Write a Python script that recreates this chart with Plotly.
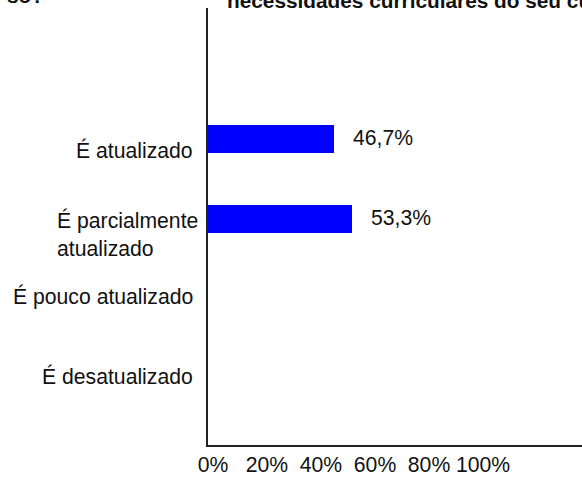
import plotly.graph_objects as go

categories = ["É atualizado", "É parcialmente<br>atualizado", "É pouco atualizado", "É desatualizado"]
values = [46.7, 53.3, 0, 0]
x_tickvals = [0, 20, 40, 60, 80, 100]
x_ticktext = ["0%", "20%", "40%", "60%", "80%", "100%"]
title_text = "necessidades curriculares do seu curso?"
corner_text = "so?"

FONT = "Liberation Sans, Arial, sans-serif"
FS = 21.2
fig = go.Figure()
fig.add_trace(go.Bar(
    y=categories, x=values, orientation="h",
    marker=dict(color="#0000FF", line=dict(width=0)),
    width=0.35, offset=-0.3375, hoverinfo="skip",
))

# value labels
for c, v in zip(categories, values):
    if v > 0:
        fig.add_annotation(x=v, y=c, xref="x", yref="y", text=f"{v:.1f}".replace(".", ",") + "%",
                           showarrow=False, xanchor="left", xshift=17, yshift=15,
                           font=dict(family=FONT, size=FS, color="#111"))

# category labels
label_yshift = [2, -2, 16, 16]
label_xshift = [-13, -8, -13, -13]
for c, ys, xs in zip(categories, label_yshift, label_xshift):
    fig.add_annotation(x=0, y=c, xref="paper", yref="y", text=c, showarrow=False,
                       xanchor="right", align="left", xshift=xs, yshift=ys,
                       font=dict(family=FONT, size=FS, color="#111"))

fig.add_annotation(x=0, y=1, xref="paper", yref="paper", text="<b>" + title_text + "</b>",
                   showarrow=False, xanchor="left", yanchor="bottom", xshift=17, yshift=-6,
                   font=dict(family=FONT, size=20.8, color="#111"))
fig.add_annotation(x=0, y=1, xref="paper", yref="paper", text="<b>" + corner_text + "</b>",
                   showarrow=False, xanchor="left", yanchor="bottom", xshift=-203, yshift=-1,
                   font=dict(family=FONT, size=20.8, color="#111"))

fig.update_layout(
    width=582, height=477,
    margin=dict(l=208, r=0, t=8, b=32),
    paper_bgcolor="white", plot_bgcolor="white",
    showlegend=False,
    font=dict(family=FONT, size=FS, color="#111"),
    bargap=0,
)
fig.update_xaxes(range=[0, 138.5], tickvals=x_tickvals, ticktext=x_ticktext,
                 showgrid=False, zeroline=False, showline=True, linecolor="#222", linewidth=2,
                 ticks="", ticklabelshift=5, tickfont=dict(family=FONT, size=FS, color="#111"),
                 fixedrange=True)
fig.update_yaxes(type="category", categoryorder="array", categoryarray=categories,
                 range=[3.6625, -1.8], showticklabels=False, showgrid=False, zeroline=False,
                 showline=True, linecolor="#222", linewidth=2, ticks="", fixedrange=True)

fig.write_html("out.html", config={"displayModeBar": False},
               post_script="document.body.style.margin='0';")
